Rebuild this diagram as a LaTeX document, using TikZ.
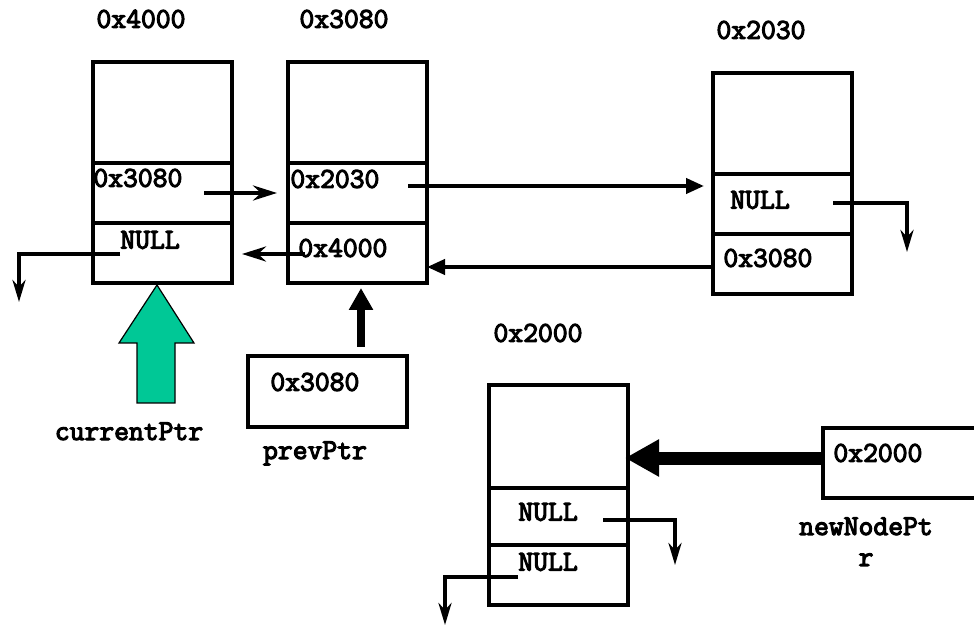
\documentclass[tikz,border=0pt]{standalone}
\usepackage{fontspec}
\newfontfamily\addrfont{Latin Modern Mono}[FakeBold=4]
\usetikzlibrary{arrows.meta, positioning}
\definecolor{arrowgreen}{RGB}{0,200,150}

\tikzset{
  cell/.style={draw, line width=2pt, minimum width=69.5pt, inner sep=0pt, outer sep=0pt},
  topcell/.style={cell, minimum height=50.5pt},
  midcell/.style={cell, minimum height=30pt},
  txt/.style={font=\addrfont\fontsize{14.4}{15.5}\selectfont, inner sep=0pt},
  link/.style={line width=2pt, -{Stealth[length=12pt, width=7.5pt, inset=4pt]}},
  dlink/.style={line width=2pt, -{Stealth[length=11pt, width=6.5pt, inset=3.5pt]}},
  tlink/.style={line width=2pt, -{Triangle[length=9pt, width=7.5pt]}},
  fat/.style={line width=4pt, -{Triangle[length=11pt, width=11.5pt]}},
  fatter/.style={line width=6.5pt, -{Triangle[length=17pt, width=17.5pt]}}
}

\begin{document}
\begin{tikzpicture}[x=0.5pt, y=-0.5pt]
\useasboundingbox (0,0) rectangle (974,625);
\clip (0,0) rectangle (974,625);
% Nodos de la lista
\node[topcell] (a1) at (162.5,112.5) {};
\node[midcell, below=0pt of a1] (a2) {};
\node[midcell, below=0pt of a2] (a3) {};
\node[topcell] (b1) at (357.5,112.5) {};
\node[midcell, below=0pt of b1] (b2) {};
\node[midcell, below=0pt of b2] (b3) {};
\node[topcell] (c1) at (782.5,123.5) {};
\node[midcell, below=0pt of c1] (c2) {};
\node[midcell, below=0pt of c2] (c3) {};
\node[cell, minimum height=51.5pt] (d1) at (558.5,436.5) {};
\node[cell, minimum height=28.5pt, below=0pt of d1] (d2) {};
\node[midcell, below=0pt of d2] (d3) {};
% Direcciones
\node[txt] (la) at (141,19) {0x4000};
\node[txt] (lb) at (344,19) {0x3080};
\node[txt] (lc) at (761,30) {0x2030};
\node[txt] (ld) at (538,333) {0x2000};
% Contenido
\node[txt, anchor=west] (a2t) at (93,178) {0x3080};
\node[txt, anchor=west] (a3t) at (120,240) {NULL};
\node[txt, anchor=west] (b2t) at (290,179) {0x2030};
\node[txt, anchor=west] (b3t) at (298,248) {0x4000};
\node[txt, anchor=west] (c2t) at (730,200) {NULL};
\node[txt, anchor=west] (c3t) at (723,258) {0x3080};
\node[txt, anchor=west] (d2t) at (518,512) {NULL};
\node[txt, anchor=west] (d3t) at (518,562) {NULL};
% Punteros
\node[cell, minimum width=79.5pt, minimum height=35.5pt] (prev) at (327.5,391.5) {};
\node[txt, anchor=west] (prevt) at (270,382) {0x3080};
\node[cell, minimum width=90pt, minimum height=35pt, anchor=north west] (newp) at (823,428) {};
\node[txt, anchor=west] (newpt) at (833,453) {0x2000};
\node[txt, anchor=base] (curl) at (129,440) {currentPtr};
\node[txt, anchor=base] (prevl) at (315,459) {prevPtr};
\node[txt, anchor=north, align=center] (newl) at (866,517) {newNodePt\\r};
\filldraw[fill=arrowgreen, draw=black, line width=0.6pt]
  (157,285) -- (194,343) -- (175,343) -- (175,403) -- (137,403) -- (137,343) -- (119,343) -- cycle;
% Enlaces
\coordinate (a2s) at (204,193);
\coordinate (b3s) at (305,254);
\coordinate (a3s) at (120,254);
\coordinate (a3e) at (19,302);
\coordinate (b2s) at (408,186);
\coordinate (c3s) at (712,267);
\coordinate (c2s) at (833,203);
\coordinate (c2e) at (907,252);
\coordinate (d2s) at (603,520);
\coordinate (d2e) at (675,565);
\coordinate (d3s) at (518,577);
\coordinate (d3e) at (445,625);
\coordinate (pps) at (361,347);
\coordinate (nps) at (823,458);
\draw[link, shorten >=5.5pt] (a2s) -- (a2s -| b2.west);
\draw[link, shorten >=5pt] (b3s) -- (b3s -| a3.east);
\draw[dlink] (a3s) -| (a3e);
\draw[tlink, shorten >=4.5pt] (b2s) -- (b2s -| c2.west);
\draw[tlink] (c3s) -- (c3s -| b3.east);
\draw[dlink] (c2s) -| (c2e);
\draw[dlink] (d2s) -| (d2e);
\draw[dlink] (d3s) -| (d3e);
\draw[fat, shorten >=2.5pt] (pps) -- (pps |- b3.south);
\draw[fatter, shorten >=-1.5pt] (nps) -- (nps -| d1.east);
\end{tikzpicture}
\end{document}
